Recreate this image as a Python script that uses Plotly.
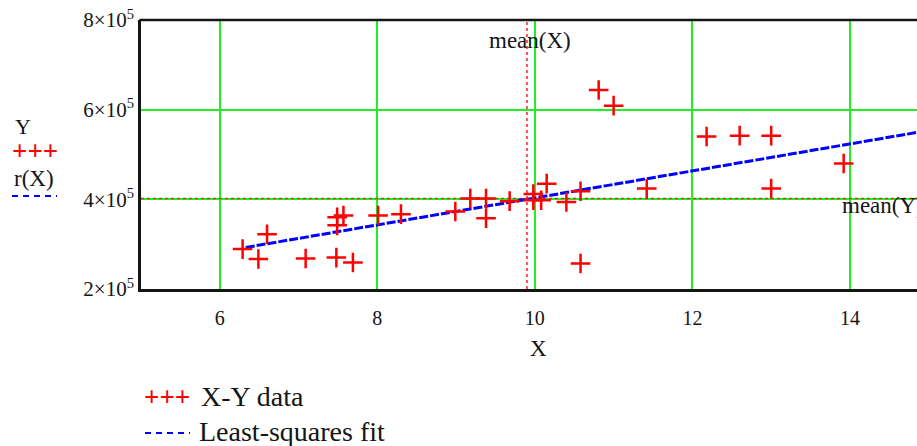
import plotly.graph_objects as go

# ---- data ----
x_data = [6.29, 6.49, 6.60, 7.09, 7.48, 7.69, 7.49, 7.57, 7.49, 8.01, 8.30,
          8.99, 9.18, 9.38, 9.38, 9.68, 9.98, 9.98, 10.08, 10.15, 10.40,
          10.58, 10.58, 10.81, 11.00, 11.42, 12.18, 12.60, 13.00, 13.00, 13.92]
y_data = [289000, 267000, 322000, 268000, 270000, 259000, 360000, 364000,
          342000, 364000, 367000, 373000, 402000, 402000, 358000, 396000,
          412000, 398000, 398000, 435000, 394000, 418000, 257000, 644000,
          609000, 424000, 540000, 542000, 542000, 424000, 480000]
fit_x = [6.33, 15.0]
fit_y = [292700, 553700]
mean_x = 9.9
mean_y = 402000
x_ticks = [6, 8, 10, 12, 14]
y_ticks = [200000, 400000, 600000, 800000]
y_tick_text = ["2\u00d710<sup>5</sup>", "4\u00d710<sup>5</sup>",
               "6\u00d710<sup>5</sup>", "8\u00d710<sup>5</sup>"]
x_range = [5, 14.851]
y_range = [200000, 800000]

FONT = "Liberation Serif"
INK = "#151515"
W, H = 917, 446
L, T, B = 141, 20, 289  # plot area pixel edges (left, top, bottom)
PW, PH = W - L, B - T


def xp(px):
    return (px - L) / PW


def yp(py):
    return (B - py) / PH


fig = go.Figure()

# mean lines
fig.add_trace(go.Scatter(x=[mean_x, mean_x], y=y_range, mode="lines",
                         line=dict(color="#ff2020", width=1.5, dash="dot"),
                         hoverinfo="skip", showlegend=False))
fig.add_trace(go.Scatter(x=[x_range[0], 15], y=[mean_y, mean_y], mode="lines",
                         line=dict(color="#ff2020", width=1.5, dash="dot"),
                         hoverinfo="skip", showlegend=False))
# least-squares fit
fig.add_trace(go.Scatter(x=fit_x, y=fit_y, mode="lines",
                         line=dict(color="#0000ff", width=3, dash="9px,2px"),
                         name="Least-squares fit", showlegend=False))
# data
fig.add_trace(go.Scatter(x=x_data, y=y_data, mode="markers",
                         marker=dict(symbol="cross-thin", size=14,
                                     line=dict(color="#ff0000", width=2.5)),
                         name="X-Y data", showlegend=False))

ann = []


def text(s, px, py, size, color=INK, xanchor="center"):
    ann.append(dict(text=s, x=xp(px), y=yp(py), xref="paper", yref="paper",
                    xanchor=xanchor, yanchor="middle", showarrow=False,
                    borderpad=0,
                    font=dict(family=FONT, size=size, color=color)))


# labels on mean lines
ann.append(dict(text="mean(X)", x=mean_x, y=y_range[1], xref="x", yref="y",
                xanchor="center", yanchor="middle", yshift=-20, xshift=3,
                showarrow=False, font=dict(family=FONT, size=23, color=INK)))
ann.append(dict(text="mean(Y)", x=13.873, y=mean_y, xref="x", yref="y",
                xanchor="left", yanchor="middle", yshift=-7,
                showarrow=False, font=dict(family=FONT, size=23, color=INK)))
# axis title
text("X", 538, 348, 23)
# left legend
text("Y", 23, 127, 22)
text("<b>+++</b>", 35, 151, 27, color="#ff0000")
text("r(X)", 34, 178, 23)
# bottom legend
text("<b>+++</b>", 167, 397, 27, color="#ff0000")
text("X-Y data", 200, 396, 28, xanchor="left")
text("Least-squares fit", 198, 431, 28, xanchor="left")

shapes = [
    # top border
    dict(type="line", xref="paper", yref="paper", x0=-0.002, x1=1.0, y0=1, y1=1,
         line=dict(color=INK, width=2.5), layer="above"),
    # legend dash samples
    dict(type="line", xref="paper", yref="paper", x0=xp(12), x1=xp(57),
         y0=yp(196), y1=yp(196), line=dict(color="#0000ff", width=2, dash="6px,5px")),
    dict(type="line", xref="paper", yref="paper", x0=xp(145), x1=xp(190),
         y0=yp(433), y1=yp(433), line=dict(color="#0000ff", width=2, dash="6px,5px")),
]

fig.update_layout(
    template="none",
    width=W, height=H,
    margin=dict(l=L, r=0, t=T, b=H - B, pad=0),
    paper_bgcolor="white", plot_bgcolor="white",
    showlegend=False,
    annotations=ann,
    shapes=shapes,
    font=dict(family=FONT, color=INK),
    xaxis=dict(range=x_range, tickvals=x_ticks, ticktext=[str(v) for v in x_ticks],
               showgrid=True, gridcolor="#22ee22", gridwidth=1.5,
               zeroline=False, showline=True, linecolor=INK, linewidth=2.5,
               ticks="outside", ticklen=9, tickcolor="rgba(0,0,0,0)",
               tickfont=dict(family=FONT, size=20, color=INK), automargin=False),
    yaxis=dict(range=y_range, tickvals=y_ticks, ticktext=y_tick_text,
               showgrid=True, gridcolor="#22ee22", gridwidth=1.5,
               zeroline=False, showline=True, linecolor=INK, linewidth=2.5,
               ticks="", tickfont=dict(family=FONT, size=21, color=INK),
               automargin=False),
)

fig.write_html("out.html",
               config={"displayModeBar": False},
               post_script="document.body.style.margin='0';"
                           "document.body.style.padding='0';"
                           "document.body.style.overflow='hidden';")
